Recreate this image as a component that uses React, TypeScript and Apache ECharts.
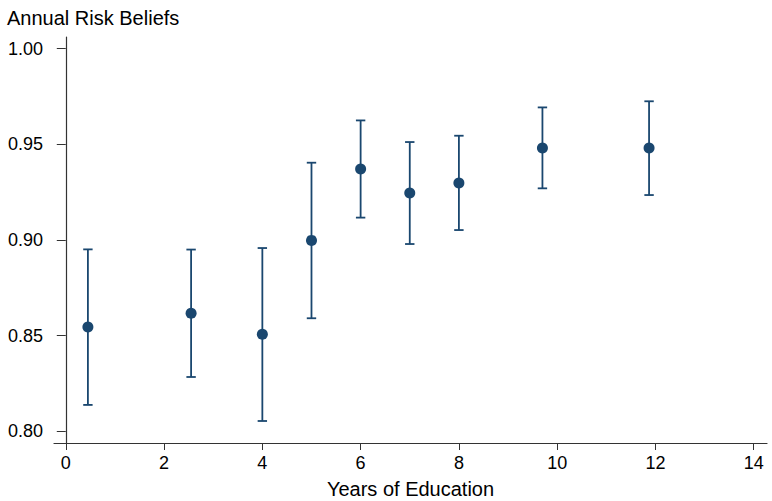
import { useEffect, useRef } from "react";
import * as echarts from "echarts";

// years of education (group means) and mean annual risk beliefs with CI
const years = [0.45, 2.55, 4, 5, 6, 7, 8, 9.7, 11.87];
const means = [0.8545, 0.8617, 0.8507, 0.8998, 0.9371, 0.9246, 0.9298, 0.9481, 0.9481];
const lower = [0.8138, 0.8284, 0.8054, 0.8591, 0.9117, 0.8979, 0.9052, 0.927, 0.9235];
const upper = [0.8951, 0.895, 0.8958, 0.9404, 0.9625, 0.9512, 0.9545, 0.9693, 0.9725];

const xTicks = [0, 2, 4, 6, 8, 10, 12, 14];
const yTicks = [0.8, 0.85, 0.9, 0.95, 1.0];

const NAVY = "#1a476f";
const FONT = "'Liberation Sans', Arial, sans-serif";

export default function App() {
  const ref = useRef<HTMLDivElement>(null);

  useEffect(() => {
    document.body.style.margin = "0";
    if (!ref.current) return;
    const chart = echarts.init(ref.current, null, { renderer: "svg" });

    const bars = years.map((x, i) => [x, lower[i], upper[i]]);
    const points = years.map((x, i) => [x, means[i]]);

    chart.setOption({
      animation: false,
      backgroundColor: "#fff",
      textStyle: { fontFamily: FONT },
      title: {
        text: "Annual Risk Beliefs",
        left: 2,
        top: 3,
        textStyle: { fontSize: 20, fontWeight: "normal", color: "#000", fontFamily: FONT },
      },
      grid: { left: 54, right: 5, top: 37, bottom: 58, outerBoundsMode: "none" },
      xAxis: {
        type: "value",
        min: -0.24,
        max: 14.27,
        name: "Years of Education",
        nameLocation: "middle",
        nameGap: 36,
        nameTextStyle: { fontSize: 20, color: "#000", fontFamily: FONT },
        axisLine: { lineStyle: { color: "#333", width: 1.2 } },
        axisTick: { show: true, length: 7, customValues: xTicks, lineStyle: { color: "#333" } },
        axisLabel: { customValues: xTicks, fontSize: 18, color: "#000", margin: 11, fontFamily: FONT },
        splitLine: { show: false },
      },
      yAxis: {
        type: "value",
        min: 0.7939,
        max: 1.0061,
        axisLine: { show: true, lineStyle: { color: "#333", width: 1.2 } },
        axisTick: { show: true, length: 9, customValues: yTicks, lineStyle: { color: "#333" } },
        axisLabel: {
          customValues: yTicks,
          fontSize: 18,
          color: "#000",
          margin: 11,
          fontFamily: FONT,
          formatter: (v: number) => v.toFixed(2),
        },
        splitLine: { show: false },
      },
      series: [
        {
          type: "custom",
          data: bars,
          encode: { x: 0, y: [1, 2] },
          renderItem: (_params: any, api: any) => {
            const x = api.value(0);
            const lo = api.coord([x, api.value(1)]);
            const hi = api.coord([x, api.value(2)]);
            const half = 4.7;
            const style = { stroke: NAVY, lineWidth: 1.8 };
            return {
              type: "group",
              children: [
                { type: "line", shape: { x1: lo[0], y1: lo[1], x2: hi[0], y2: hi[1] }, style },
                { type: "line", shape: { x1: lo[0] - half, y1: lo[1], x2: lo[0] + half, y2: lo[1] }, style },
                { type: "line", shape: { x1: hi[0] - half, y1: hi[1], x2: hi[0] + half, y2: hi[1] }, style },
              ],
            };
          },
          z: 1,
        },
        {
          type: "scatter",
          data: points,
          symbol: "circle",
          symbolSize: 11,
          itemStyle: { color: NAVY, opacity: 1 },
          z: 2,
        },
      ],
    });

    return () => chart.dispose();
  }, []);

  return <div ref={ref} style={{ width: 772, height: 501 }} />;
}
